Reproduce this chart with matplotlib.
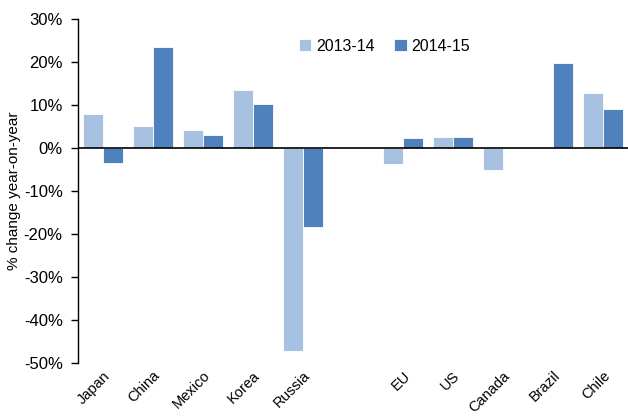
import matplotlib
matplotlib.use("Agg")
import matplotlib.pyplot as plt
import numpy as np

categories = ["Japan", "China", "Mexico", "Korea", "Russia", "", "EU", "US", "Canada", "Brazil", "Chile"]
s2013 = [7.9, 5.1, 4.1, 13.4, -47.2, np.nan, -3.7, 2.5, -5.2, np.nan, 12.8]
s2014 = [-3.4, 23.6, 3.0, 10.2, -18.4, np.nan, 2.3, 2.6, np.nan, 19.8, 9.1]
series_names = ["2013-14", "2014-15"]
yticks = [30, 20, 10, 0, -10, -20, -30, -40, -50]

light = "#A7C1E0"
dark = "#4F81BD"

fig = plt.figure(figsize=(6.28, 4.17), dpi=100)
ax = fig.add_axes([78/628, 1-363/417, 1-78/628, (363-19)/417])

x = np.arange(len(categories))
w = 0.4
ax.bar(x - w/2, s2013, width=w, color=light, edgecolor="white", linewidth=0.6, label=series_names[0])
ax.bar(x + w/2, s2014, width=w, color=dark, edgecolor="white", linewidth=0.6, label=series_names[1])

ax.set_xlim(-0.5, len(categories) - 0.5)
ax.set_ylim(-50, 30)
ax.axhline(0, color="black", linewidth=1.2, zorder=3)

ax.set_yticks(yticks)
ax.set_yticklabels([f"{v}%" for v in yticks], fontsize=12, fontfamily="Liberation Sans")
ax.tick_params(axis="y", direction="out", length=5, width=1, pad=6)

ax.set_xticks(x)
ax.set_xticklabels(categories, rotation=45, ha="right", va="top", rotation_mode="anchor",
                   fontsize=10.5, fontfamily="Liberation Sans")
ax.tick_params(axis="x", length=0, pad=4)

for s in ["top", "right", "bottom"]:
    ax.spines[s].set_visible(False)
ax.spines["left"].set_linewidth(1)

ax.set_ylabel("% change year-on-year", fontsize=11, fontfamily="Liberation Sans", labelpad=2)

leg = ax.legend(loc="upper left", bbox_to_anchor=(0.375, 0.985), ncol=2, frameon=False,
                handlelength=0.8, handleheight=0.8, handletextpad=0.3, columnspacing=1.2,
                prop={"family": "Liberation Sans", "size": 11.5})

fig.savefig("out.png", dpi=100)
